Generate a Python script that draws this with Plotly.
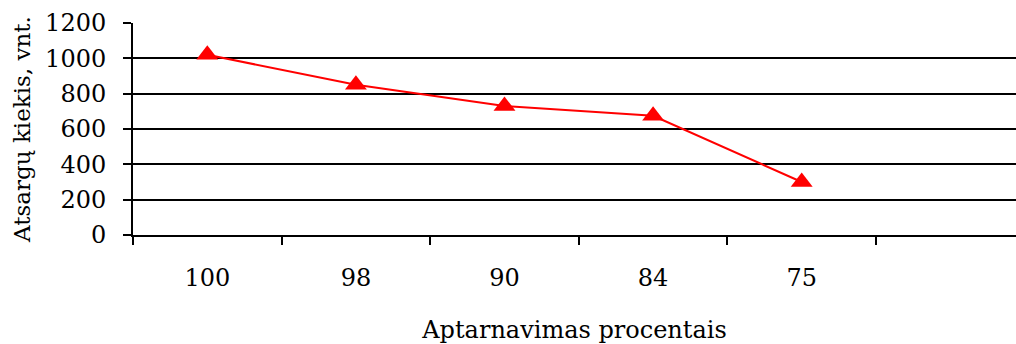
import plotly.graph_objects as go

categories = ["100", "98", "90", "84", "75"]
values = [1020, 850, 730, 675, 300]
y_ticks = [0, 200, 400, 600, 800, 1000, 1200]

FONT = "DejaVu Serif"
FS = 24

fig = go.Figure()
fig.add_trace(go.Scatter(
    x=categories, y=values, mode="lines+markers",
    line=dict(color="#ff0000", width=2),
    marker=dict(symbol="triangle-up", size=19, color="#ff0000"),
    showlegend=False,
))

fig.update_layout(
    width=1016, height=344,
    margin=dict(l=133, r=0, t=23, b=109),
    plot_bgcolor="white", paper_bgcolor="white",
    font=dict(family=FONT, size=FS, color="black"),
)

fig.update_xaxes(
    type="category",
    range=[-0.5, -0.5 + (1016 - 133) / 148.6],
    tickson="boundaries",
    ticks="outside", ticklen=8, tickwidth=2, tickcolor="black",
    showline=True, linecolor="black", linewidth=2,
    showgrid=False,
    ticklabelstandoff=20,
    tickfont=dict(family=FONT, size=FS),
    title=dict(text="Aptarnavimas procentais", font=dict(family=FONT, size=FS), standoff=30),
    automargin=False,
)

fig.update_yaxes(
    range=[0, 1200],
    tickvals=y_ticks,
    ticks="outside", ticklen=8, tickwidth=2, tickcolor="black",
    showline=True, linecolor="black", linewidth=2,
    showgrid=True, gridcolor="black", gridwidth=2,
    zeroline=False,
    ticklabelstandoff=12,
    tickfont=dict(family=FONT, size=FS),
    title=dict(text="Atsargų kiekis, vnt.", font=dict(family=FONT, size=23), standoff=8),
    automargin=False,
)

fig.write_html("out.html")
